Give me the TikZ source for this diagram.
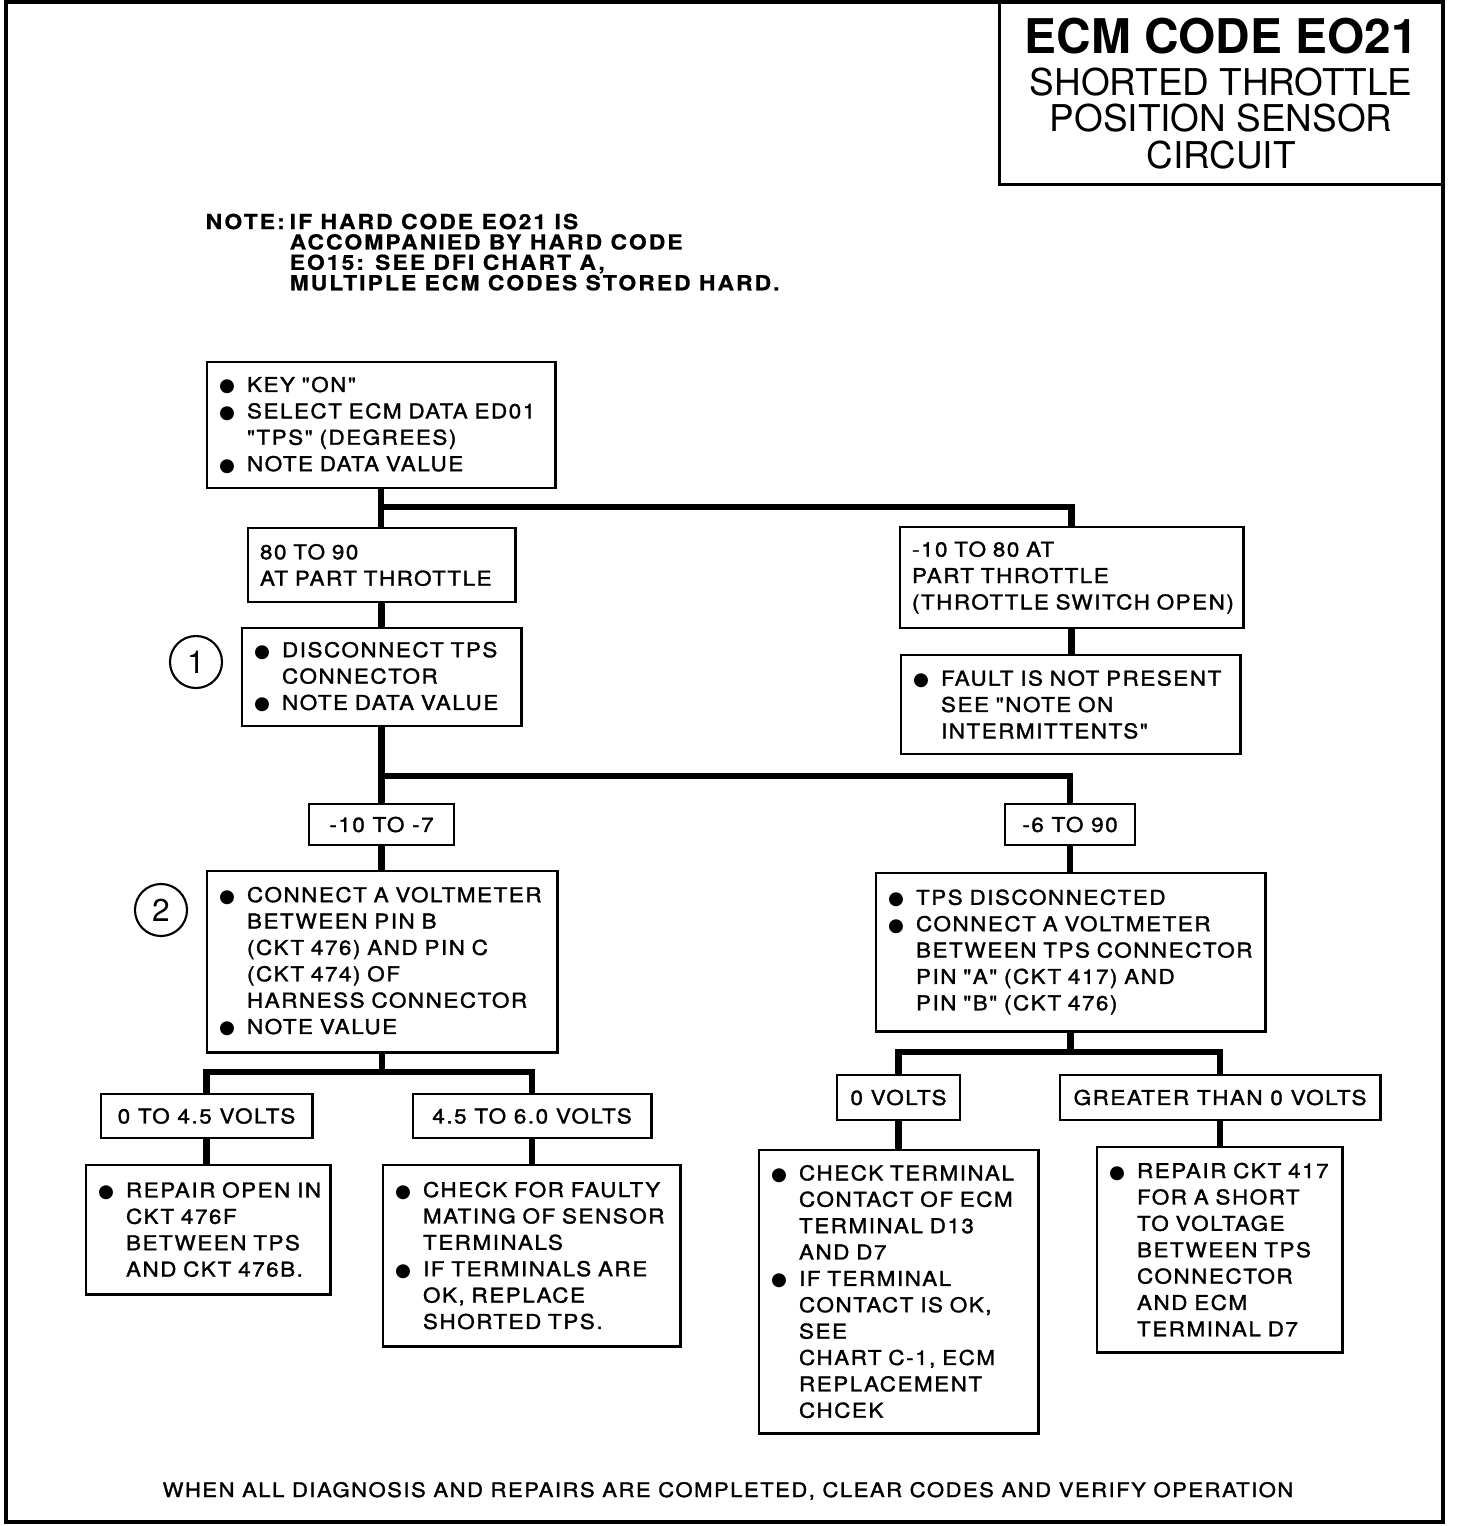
\documentclass[tikz,border=0pt]{standalone}
\usepackage{fontspec}
\usepackage{tikz}
\newfontfamily\chartfont[LetterSpace=7.5,FakeStretch=1.1,FakeBold=1.5]{TeX Gyre Heros}
\newfontfamily\notefont[LetterSpace=10,FakeStretch=1.1,FakeBold=0.8]{TeX Gyre Heros}
\newfontfamily\titlefont{TeX Gyre Heros}
\newfontfamily\symfont{DejaVu Sans}
\newcommand{\bul}{\makebox[0.28cm][l]{\raisebox{0pt}{\symfont\fontsize{5.2}{5.2}\selectfont ●}}}
\newcommand{\ind}{\hspace*{0.28cm}}

\begin{document}
\begin{tikzpicture}[x=0.01cm,y=-0.01cm]
      \useasboundingbox (0,0) rectangle (1456,1526);
      \tikzset{box/.style = {draw, line width=0.8pt, anchor=north west, outer sep=0pt, inner xsep=0.12cm, inner ysep=0pt, align=left, font=\chartfont\fontsize{5.8}{7.5}\selectfont, execute at begin node={\rightskip=0pt plus 1fil minus 1cm}}}
      \tikzset{tag/.style = {draw, line width=0.8pt, anchor=north west, outer sep=0pt, inner sep=0pt, align=center, font=\chartfont\fontsize{5.8}{7.5}\selectfont}}
      \tikzset{link/.style = {draw, line width=1.9pt}}
      \tikzset{num/.style = {shape=circle, draw, line width=0.6pt, minimum size=0.52cm, inner sep=0pt, font=\titlefont\fontsize{9}{9}\selectfont}}
      % frame, title and notes
      \draw[line width=1.3pt] (6,2) rectangle (1443,1522);
      \node[draw, line width=0.8pt, anchor=north east, outer sep=0pt, minimum width=4.435cm, minimum height=1.825cm, align=center, font=\titlefont\fontsize{10.5}{10.4}\selectfont] (title) at (1443,2) {{\fontsize{13.6}{13.6}\selectfont\bfseries ECM CODE EO21}\\[1.6pt] SHORTED THROTTLE\\ POSITION SENSOR\\ CIRCUIT};
      \node[anchor=north west, inner sep=0pt, align=left, font=\notefont\bfseries\fontsize{5.9}{5.8}\selectfont] (note) at (205,213) {\makebox[0.84cm][l]{NOTE:}IF HARD CODE EO21 IS\\ \hspace*{0.84cm}ACCOMPANIED BY HARD CODE\\ \hspace*{0.84cm}EO15: SEE DFI CHART A,\\ \hspace*{0.84cm}MULTIPLE ECM CODES STORED HARD.};
      \node[anchor=base, inner sep=0pt, font=\chartfont\fontsize{5.7}{5.7}\selectfont] (footer) at (728,1497) {WHEN ALL DIAGNOSIS AND REPAIRS ARE COMPLETED, CLEAR CODES AND VERIFY OPERATION};
      % steps
      \node[box, text width=3.24cm, minimum height=1.26cm] (key) at (207,362) {\bul KEY "ON"\\ \bul SELECT ECM DATA ED01\\ \ind "TPS" (DEGREES)\\ \bul NOTE DATA VALUE};
      \node[box, text width=2.43cm, minimum height=0.74cm] (hi) at (248,528) {80 TO 90\\ AT PART THROTTLE};
      \node[box, text width=3.19cm, minimum height=1.01cm] (lo) at (900,527) {-10 TO 80 AT\\ PART THROTTLE\\ (THROTTLE SWITCH OPEN)};
      \node[box, text width=3.15cm, minimum height=0.99cm] (nofault) at (901,655) {\bul FAULT IS NOT PRESENT\\ \ind SEE "NOTE ON\\ \ind INTERMITTENTS"};
      \node[box, text width=2.55cm, minimum height=0.98cm] (disc) at (242,628) {\bul DISCONNECT TPS\\ \ind CONNECTOR\\ \bul NOTE DATA VALUE};
      \node[num] (n1) at (196,662) {1};
      \node[tag, minimum width=1.45cm, minimum height=0.41cm] (neg) at (309,804) {-10 TO -7};
      \node[tag, minimum width=1.30cm, minimum height=0.41cm] (pos) at (1005,804) {-6 TO 90};
      \node[box, text width=3.26cm, minimum height=1.81cm] (harn) at (207,871) {\bul CONNECT A VOLTMETER\\ \ind BETWEEN PIN B\\ \ind (CKT 476) AND PIN C\\ \ind (CKT 474) OF\\ \ind HARNESS CONNECTOR\\ \bul NOTE VALUE};
      \node[num] (n2) at (161,910) {2};
      \node[box, text width=3.65cm, minimum height=1.58cm] (tpsv) at (876,873) {\bul TPS DISCONNECTED\\ \bul CONNECT A VOLTMETER\\ \ind BETWEEN TPS CONNECTOR\\ \ind PIN "A" (CKT 417) AND\\ \ind PIN "B" (CKT 476)};
      \node[tag, minimum width=2.11cm, minimum height=0.44cm] (lowv) at (101,1094) {0 TO 4.5 VOLTS};
      \node[tag, minimum width=2.38cm, minimum height=0.44cm] (midv) at (413,1094) {4.5 TO 6.0 VOLTS};
      \node[box, text width=2.20cm, minimum height=1.29cm] (open) at (86,1165) {\bul REPAIR OPEN IN\\ \ind CKT 476F\\ \ind BETWEEN TPS\\ \ind AND CKT 476B.};
      \node[box, text width=2.73cm, minimum height=1.81cm] (mate) at (383,1165) {\bul CHECK FOR FAULTY\\ \ind MATING OF SENSOR\\ \ind TERMINALS\\ \bul IF TERMINALS ARE\\ \ind OK, REPLACE\\ \ind SHORTED TPS.};
      \node[tag, minimum width=1.23cm, minimum height=0.45cm] (zerov) at (837,1075) {0 VOLTS};
      \node[tag, minimum width=3.20cm, minimum height=0.45cm] (gtv) at (1060,1075) {GREATER THAN 0 VOLTS};
      \node[box, text width=2.55cm, minimum height=2.83cm] (term) at (759,1150) {\bul CHECK TERMINAL\\ \ind CONTACT OF ECM\\ \ind TERMINAL D13\\ \ind AND D7\\ \bul IF TERMINAL\\ \ind CONTACT IS OK,\\ \ind SEE\\ \ind CHART C-1, ECM\\ \ind REPLACEMENT\\ \ind CHCEK};
      \node[box, text width=2.21cm, minimum height=2.05cm] (short) at (1097,1147) {\bul REPAIR CKT 417\\ \ind FOR A SHORT\\ \ind TO VOLTAGE\\ \ind BETWEEN TPS\\ \ind CONNECTOR\\ \ind AND ECM\\ \ind TERMINAL D7};
      % branches
      \coordinate (f1) at (381,507);
      \coordinate (f2) at (381,776);
      \coordinate (f3) at (382,1072);
      \coordinate (f4) at (1071,1052);
      \draw[link] (key.south) -- (key.south |- hi.north);
      \draw[link] (hi.north |- f1) -| (lo.north);
      \draw[link] (lo.south) -- (lo.south |- nofault.north);
      \draw[link] (hi.south) -- (hi.south |- disc.north);
      \draw[link] (disc.south) -- (disc.south |- neg.north);
      \draw[link] (neg.north |- f2) -| (pos.north);
      \draw[link] (neg.south) -- (neg.south |- harn.north);
      \draw[link] (pos.south) -- (pos.south |- tpsv.north);
      \draw[link] (harn.south) -- (harn.south |- f3);
      \draw[link] (lowv.north) |- (f3) -| (midv.north);
      \draw[link] (tpsv.south) -- (tpsv.south |- f4);
      \draw[link] (zerov.north) |- (f4) -| (gtv.north);
      \draw[link] (lowv.south) -- (lowv.south |- open.north);
      \draw[link] (midv.south) -- (midv.south |- mate.north);
      \draw[link] (zerov.south) -- (zerov.south |- term.north);
      \draw[link] (gtv.south) -- (gtv.south |- short.north);
    \end{tikzpicture}
\end{document}
